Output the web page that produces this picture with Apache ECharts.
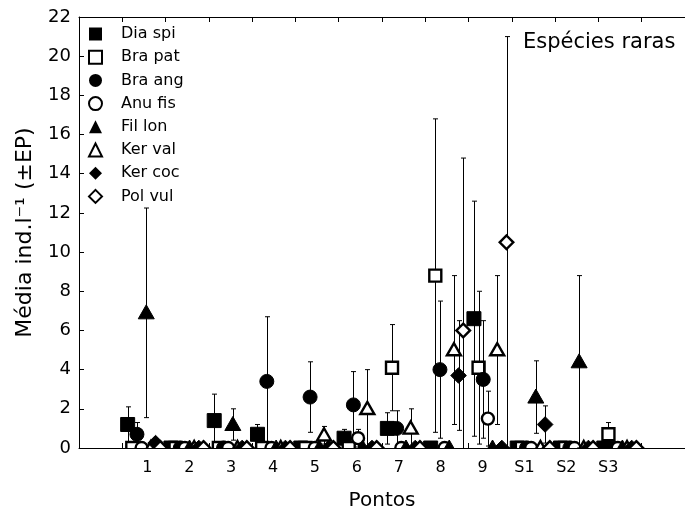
<!DOCTYPE html>
<html><head><meta charset="utf-8">
<script src="https://cdn.jsdelivr.net/npm/echarts@6/dist/echarts.min.js"></script>
<style>html,body{margin:0;padding:0;background:#fff}#c{width:685px;height:519px}</style>
</head><body><div id="c"></div>
<script>
// Tick labels of the points (groups)
const pontos = ['1','2','3','4','5','6','7','8','9','S1','S2','S3'];
const species = ['Dia spi','Bra pat','Bra ang','Anu fis','Fil lon','Ker val','Ker coc','Pol vul'];
// Means per species across points
const diaSpi   = [1.2, 0, 1.4, 0.7, 0,    0.5, 1.0, 0,   6.6, 0,   0,   0  ];
const braPat   = [0,   0, 0,   0,   0,    0,   4.1, 8.8, 4.1, 0,   0,   0.7];
const braAng   = [0.7, 0, 0,   3.4, 2.6,  2.2, 1.0, 4.0, 3.5, 0,   0,   0  ];
const anuFis   = [0,   0, 0,   0,   0,    0.5, 0,   0,   1.5, 0,   0,   0  ];
const filLon   = [6.9, 0, 1.2, 0,   0,    0,   0,   0,   0,   2.6, 4.4, 0  ];
const kerVal   = [0,   0, 0,   0,   0.65, 2.0, 1.0, 5.0, 5.0, 0,   0,   0  ];
const kerCoc   = [0.25,0, 0,   0,   0,    0,   0,   3.7, 0,   1.2, 0,   0  ];
const polVul   = [0,   0, 0,   0,   0,    0,   0,   6.0, 10.5,0,   0,   0  ];
// Standard errors
const diaSpiSE = [0.9, 0, 1.35,0.5, 0,    0.45,0.8, 0,   6.0, 0,   0,   0  ];
const braPatSE = [0,   0, 0,   0,   0,    0,   2.2, 8.0, 3.9, 0,   0,   0.6];
const braAngSE = [0.6, 0, 0,   3.3, 1.8,  1.7, 0.9, 3.5, 3.0, 0,   0,   0  ];
const anuFisSE = [0,   0, 0,   0,   0,    0.45,0,   0,   1.4, 0,   0,   0  ];
const filLonSE = [5.35,0, 0.8, 0,   0,    0,   0,   0,   0,   1.85,4.4, 0  ];
const kerValSE = [0,   0, 0,   0,   0.45, 2.0, 1.0, 3.8, 3.8, 0,   0,   0  ];
const kerCocSE = [0.2, 0, 0,   0,   0,    0,   0,   2.8, 0,   0.95,0,   0  ];
const polVulSE = [0,   0, 0,   0,   0,    0,   0,   8.8, 10.5,0,   0,   0  ];

const means = [diaSpi, braPat, braAng, anuFis, filLon, kerVal, kerCoc, polVul];
const ses   = [diaSpiSE, braPatSE, braAngSE, anuFisSE, filLonSE, kerValSE, kerCocSE, polVulSE];
const shapes = ['square','square','circle','circle','triangle','triangle','diamond','diamond'];
const filled = [true,false,true,false,true,false,true,false];
const OFF = 0.1075;
const FONT = "'DejaVu Sans', 'Liberation Sans', Arial, sans-serif";

function markerEl(shape, fill, x, y) {
  const style = fill ? {fill:'#000', stroke:'#000', lineWidth:1} : {fill:'#fff', stroke:'#000', lineWidth:2.4};
  const h = fill ? 7 : 6;
  if (shape === 'square') return {type:'rect', shape:{x:x-h, y:y-h, width:2*h, height:2*h}, style};
  if (shape === 'circle') return {type:'circle', shape:{cx:x, cy:y, r:h}, style};
  if (shape === 'triangle') { const t = h+1; return {type:'polygon', shape:{points:[[x,y-t],[x+t,y+t*0.75],[x-t,y+t*0.75]]}, style}; }
  const d = h+0.8;
  return {type:'polygon', shape:{points:[[x,y-d],[x+d,y],[x,y+d],[x-d,y]]}, style};
}

function makeSeries(j) {
  return {
    type:'custom', name: species[j], clip:true, xAxisIndex:0, yAxisIndex:0, z: 2 + j,
    data: pontos.map((p,i) => [i + 1 + (j - 3.5) * OFF, means[j][i], ses[j][i]]),
    renderItem(params, api) {
      const x = api.value(0), m = api.value(1), s = api.value(2);
      const p = api.coord([x, m]);
      const ch = [];
      if (s > 0) {
        const t = api.coord([x, m + s]), b = api.coord([x, m - s]);
        const px = Math.round(p[0]) + 0.5;
        ch.push({type:'line', shape:{x1:px, y1:t[1], x2:px, y2:b[1]}, style:{stroke:'#000', lineWidth:1}});
        ch.push({type:'line', shape:{x1:px-2.5, y1:t[1], x2:px+2.5, y2:t[1]}, style:{stroke:'#000', lineWidth:1}});
        ch.push({type:'line', shape:{x1:px-2.5, y1:b[1], x2:px+2.5, y2:b[1]}, style:{stroke:'#000', lineWidth:1}});
      }
      ch.push(markerEl(shapes[j], filled[j], p[0], p[1]));
      return {type:'group', children: ch};
    }
  };
}

const legendIcons = {square:'rect', circle:'circle', triangle:'triangle', diamond:'diamond'};
const chart = echarts.init(document.getElementById('c'), null, {renderer:'canvas'});
chart.setOption({
  animation:false,
  backgroundColor:'#fff',
  grid:{left:79, top:17, bottom:71, right:-6, show:false},
  title:{text:'Espécies raras', left:518, top:27, textStyle:{fontFamily:FONT, fontSize:21, fontWeight:'normal', color:'#000'}},
  legend:{
    orient:'vertical', left:88, top:26, itemWidth:13, itemHeight:13, itemGap:7.2, padding:0,
    textStyle:{fontFamily:FONT, fontSize:16, color:'#000', padding:[0,0,0,14]},
    data: species.map((s,j) => ({
      name:s, icon: legendIcons[shapes[j]],
      itemStyle: filled[j] ? {color:'#000', borderWidth:0} : {color:'#fff', borderColor:'#000', borderWidth:2}
    }))
  },
  xAxis:[
    {type:'value', min:-0.5, max:13.5, interval:1, position:'bottom',
     axisLine:{onZero:false, lineStyle:{color:'#000', width:1}}, axisTick:{inside:true, length:5, lineStyle:{color:'#000'}},
     axisLabel:{show:false}, splitLine:{show:false}},
    {type:'value', min:-0.5, max:13.5, interval:1, position:'top',
     axisLine:{onZero:false, lineStyle:{color:'#000', width:1}}, axisTick:{inside:true, length:5, lineStyle:{color:'#000'}},
     axisLabel:{show:false}, splitLine:{show:false}},
    {type:'value', min:1 - 69/42.3, max:1 + 542.8/42.3, position:'bottom',
     axisLine:{show:false, onZero:false}, axisTick:{show:false}, splitLine:{show:false},
     axisLabel:{customValues:[1,2,3,4,5,6,7,8,9,10,11,12], formatter: v => pontos[Math.round(v) - 1] || '',
       fontFamily:FONT, fontSize:16, color:'#000', margin:12},
     name:'Pontos', nameLocation:'middle', nameGap:43,
     nameTextStyle:{fontFamily:FONT, fontSize:20, color:'#000'}}
  ],
  yAxis:[{type:'value', min:0, max:22, interval:2,
    axisLine:{show:true, onZero:false, lineStyle:{color:'#000', width:1}}, axisTick:{show:true, inside:true, length:5, lineStyle:{color:'#000'}},
    axisLabel:{fontFamily:FONT, fontSize:18, color:'#000', margin:8}, splitLine:{show:false},
    name:'Média ind.l⁻¹ (±EP)', nameLocation:'middle', nameGap:43,
    nameTextStyle:{fontFamily:FONT, fontSize:22, color:'#000'}}],
  series: species.map((s,j) => makeSeries(j))
});
</script></body></html>
